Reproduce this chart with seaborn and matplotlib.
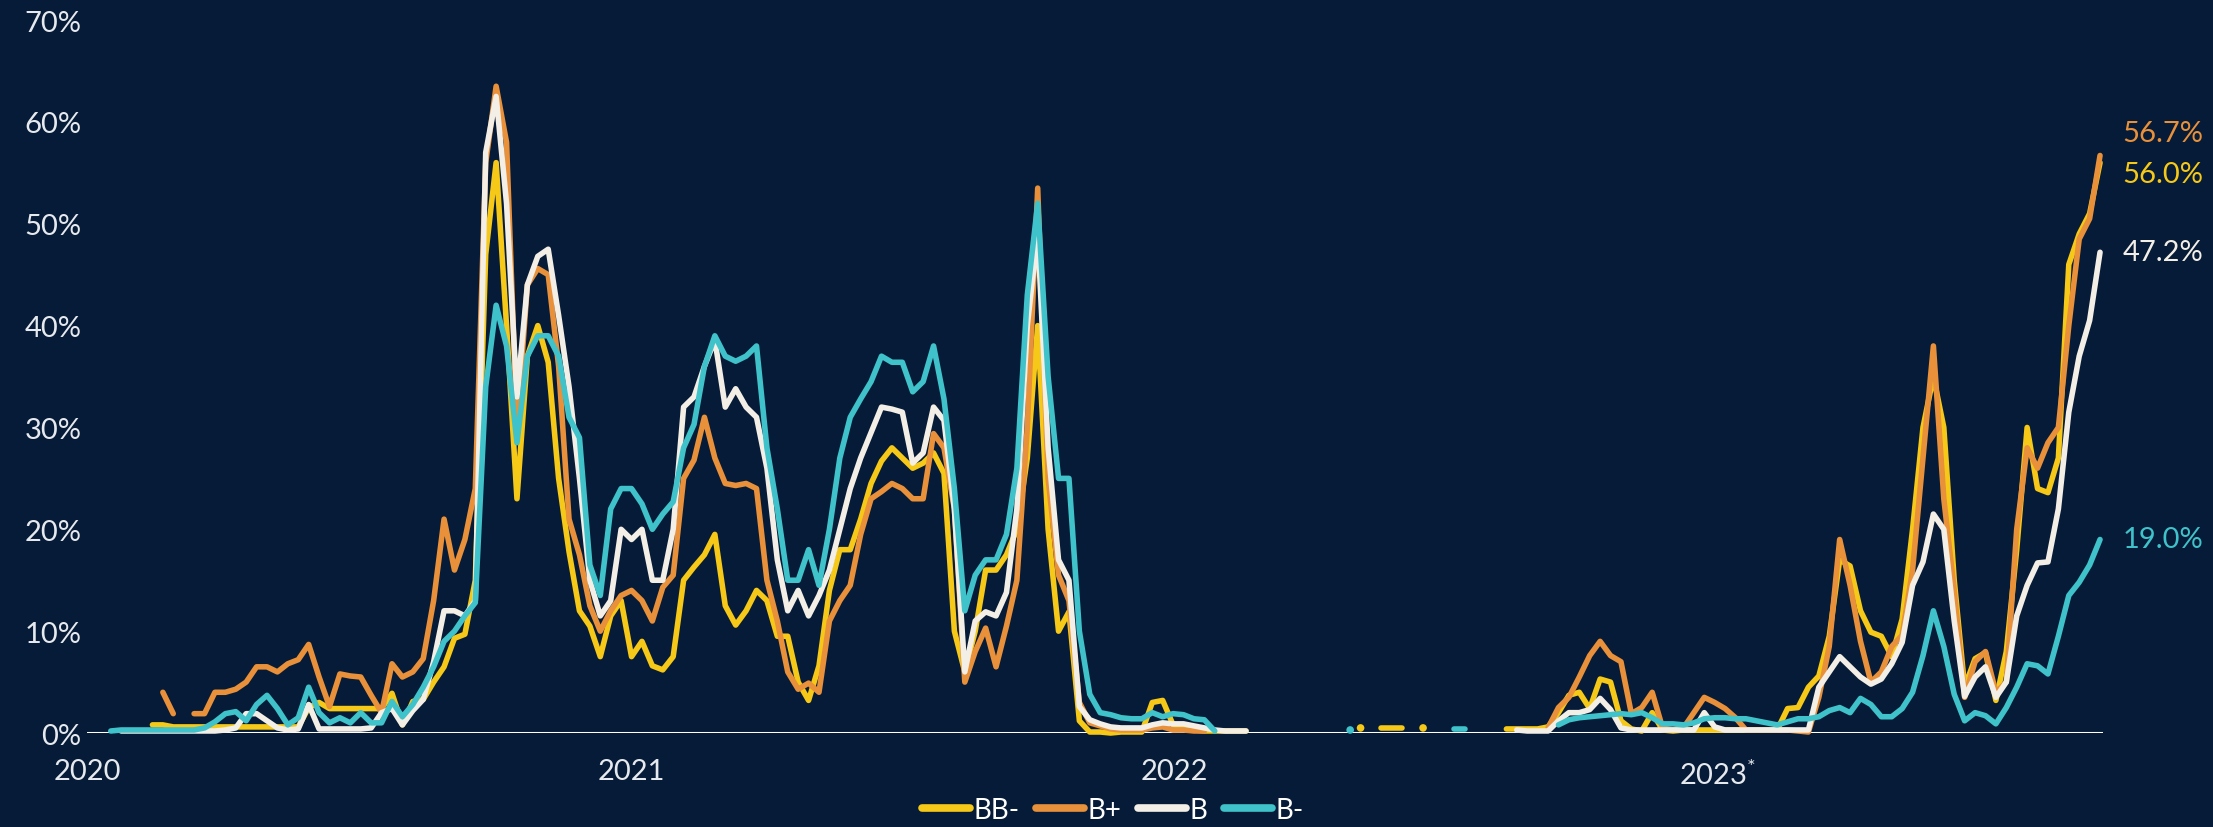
import numpy as np
import pandas as pd
import matplotlib
matplotlib.use("Agg")
import matplotlib.pyplot as plt
from matplotlib.lines import Line2D
import seaborn as sns

nan = np.nan

# weekly readings, first on 3 Jan 2020, last on 15 Sep 2023 (194 weeks)
dates = pd.date_range("2020-01-03", periods=194, freq="7D")

bb_minus = [
    nan, nan, nan, nan, nan, nan, 0.8, 0.8, 0.6, 0.6,
    0.6, 0.6, 0.6, 0.6, 0.6, 0.6, 0.6, 0.6, 0.6, 0.6,
    0.6, 2.5, 3.0, 2.4, 2.4, 2.4, 2.4, 2.4, 2.4, 3.9,
    0.8, 3.1, 3.3, 5.0, 6.5, 9.3, 9.7, 15.0, 47.0, 56.0,
    40.0, 23.0, 37.0, 40.0, 36.4, 25.0, 17.8, 12.0, 10.5, 7.5,
    11.5, 13.0, 7.5, 9.0, 6.6, 6.2, 7.5, 15.0, 16.3, 17.5,
    19.5, 12.5, 10.6, 12.0, 14.0, 13.0, 9.5, 9.5, 5.0, 3.2,
    6.6, 14.0, 18.0, 18.0, 21.0, 24.5, 26.7, 28.0, 27.0, 26.0,
    26.5, 27.5, 25.5, 10.0, 6.0, 10.0, 16.0, 16.0, 17.5, 20.0,
    27.0, 40.0, 20.0, 10.0, 11.9, 1.2, 0.1, 0.1, 0.0, 0.1,
    0.1, 0.1, 3.0, 3.2, 0.8, 0.5, 0.3, 0.2, 0.2, 0.2,
    0.2, 0.2, nan, nan, nan, nan, nan, nan, nan, nan,
    nan, nan, 0.5, nan, 0.5, 0.5, 0.5, nan, 0.5, nan,
    nan, nan, nan, nan, nan, nan, 0.4, 0.4, 0.4, 0.4,
    0.6, 2.0, 3.7, 4.0, 2.4, 5.3, 5.0, 1.2, 0.4, 0.2,
    2.0, 0.3, 0.2, 0.3, 0.3, 0.3, 0.3, 0.3, 0.3, 0.3,
    0.3, 0.3, 0.3, 2.4, 2.5, 4.5, 5.6, 9.5, 17.0, 16.4,
    12.0, 9.9, 9.5, 7.5, 11.2, 20.0, 30.0, 35.0, 30.0, 15.0,
    4.5, 7.3, 7.9, 3.2, 8.0, 18.0, 30.0, 24.0, 23.6, 27.0,
    46.0, 49.0, 51.0, 56.0,
]

b_plus = [
    nan, nan, nan, nan, nan, nan, nan, 4.0, 1.9, nan,
    1.9, 1.9, 4.0, 4.0, 4.3, 5.0, 6.5, 6.5, 6.0, 6.8,
    7.2, 8.7, 5.5, 2.6, 5.8, 5.6, 5.5, 3.7, 2.0, 6.8,
    5.5, 6.0, 7.3, 13.0, 21.0, 16.0, 19.0, 24.0, 56.0, 63.5,
    58.0, 30.0, 44.0, 45.6, 45.0, 36.0, 21.0, 17.5, 12.5, 10.0,
    12.0, 13.5, 14.0, 13.0, 11.0, 14.3, 15.5, 25.0, 26.8, 31.0,
    27.0, 24.5, 24.3, 24.5, 24.0, 15.0, 11.0, 6.0, 4.3, 4.9,
    4.0, 11.0, 13.0, 14.5, 19.5, 23.0, 23.7, 24.5, 24.0, 23.0,
    23.0, 29.4, 28.0, 22.0, 5.0, 8.0, 10.3, 6.5, 10.5, 15.0,
    30.0, 53.5, 25.0, 15.5, 13.0, 3.0, 1.0, 0.7, 0.4, 0.3,
    0.3, 0.3, 0.5, 0.6, 0.3, 0.3, 0.2, 0.2, nan, nan,
    nan, nan, nan, nan, nan, nan, nan, nan, nan, nan,
    nan, nan, nan, nan, nan, nan, nan, nan, nan, nan,
    nan, nan, nan, nan, nan, nan, nan, nan, nan, nan,
    0.5, 2.5, 3.5, 5.5, 7.6, 9.0, 7.6, 7.0, 1.9, 2.5,
    4.0, 0.5, 0.3, 0.5, 2.0, 3.5, 3.0, 2.4, 1.5, 0.3,
    0.3, 0.3, 0.3, 0.3, 0.2, 0.1, 3.5, 8.5, 19.0, 14.5,
    9.0, 5.0, 6.0, 8.5, 9.6, 16.0, 27.0, 38.0, 23.0, 14.0,
    3.5, 7.0, 8.0, 4.0, 5.0, 20.0, 28.0, 26.0, 28.5, 30.0,
    40.0, 48.5, 50.5, 56.7,
]

b_mid = [
    nan, nan, nan, 0.2, 0.2, 0.2, 0.2, 0.2, 0.2, 0.2,
    0.2, 0.2, 0.2, 0.3, 0.5, 1.9, 1.9, 1.2, 0.5, 0.3,
    0.4, 2.8, 0.4, 0.4, 0.4, 0.4, 0.4, 0.5, 2.0, 2.4,
    0.8, 2.2, 3.3, 7.0, 12.0, 12.0, 11.5, 13.0, 57.0, 62.5,
    52.0, 33.0, 44.0, 46.8, 47.5, 41.0, 34.0, 25.0, 15.0, 11.5,
    13.0, 20.0, 19.0, 20.0, 15.0, 15.0, 20.0, 32.0, 33.0, 36.0,
    38.6, 32.0, 33.8, 32.0, 31.0, 26.0, 17.0, 12.0, 14.0, 11.5,
    13.5, 16.0, 20.0, 24.0, 27.0, 29.5, 32.0, 31.8, 31.5, 26.5,
    27.5, 32.0, 30.7, 22.0, 6.0, 11.0, 11.9, 11.5, 13.8, 22.0,
    40.0, 49.0, 28.0, 17.0, 15.0, 2.6, 1.3, 0.9, 0.6, 0.5,
    0.5, 0.5, 0.8, 1.0, 0.9, 0.9, 0.7, 0.5, 0.3, 0.2,
    0.2, 0.2, nan, nan, nan, nan, nan, nan, nan, nan,
    nan, nan, nan, nan, nan, nan, nan, nan, nan, nan,
    nan, nan, nan, nan, nan, nan, nan, 0.3, 0.2, 0.2,
    0.2, 1.2, 2.0, 2.0, 2.3, 3.4, 2.3, 0.5, 0.3, 0.3,
    0.3, 0.3, 0.3, 0.3, 0.3, 2.0, 0.6, 0.3, 0.3, 0.3,
    0.3, 0.3, 0.3, 0.3, 0.3, 0.3, 4.5, 6.0, 7.5, 6.5,
    5.5, 4.8, 5.3, 6.8, 8.9, 14.5, 16.8, 21.5, 20.0, 11.0,
    3.6, 5.5, 6.5, 3.5, 5.0, 11.5, 14.5, 16.7, 16.8, 22.0,
    31.5, 37.0, 40.5, 47.2,
]

b_minus = [
    nan, nan, 0.2, 0.3, 0.3, 0.3, 0.3, 0.3, 0.3, 0.3,
    0.3, 0.5, 1.1, 1.9, 2.1, 1.2, 2.8, 3.7, 2.4, 0.8,
    1.5, 4.5, 2.0, 1.0, 1.5, 1.0, 2.0, 1.0, 1.0, 3.1,
    1.6, 2.8, 4.5, 6.5, 9.0, 10.0, 11.5, 12.8, 34.0, 42.0,
    38.0, 28.5, 37.0, 39.0, 39.0, 37.0, 31.0, 29.0, 16.5, 13.5,
    22.0, 24.0, 24.0, 22.5, 20.0, 21.5, 22.7, 28.0, 30.3, 36.0,
    39.0, 37.0, 36.5, 37.0, 38.0, 28.0, 22.0, 15.0, 15.0, 18.0,
    14.5, 20.0, 27.0, 31.0, 32.8, 34.5, 37.0, 36.4, 36.4, 33.5,
    34.5, 38.0, 32.8, 24.0, 12.0, 15.5, 17.0, 17.0, 19.5, 26.0,
    43.0, 52.0, 35.0, 25.0, 25.0, 10.0, 3.8, 2.0, 1.8, 1.5,
    1.4, 1.4, 2.0, 1.6, 1.9, 1.8, 1.4, 1.3, 0.2, nan,
    nan, nan, nan, nan, nan, nan, nan, nan, nan, nan,
    nan, 0.3, nan, nan, nan, nan, nan, nan, nan, nan,
    nan, 0.4, 0.4, nan, nan, nan, nan, nan, nan, nan,
    nan, 0.8, 1.3, 1.5, 1.6, 1.7, 1.8, 1.9, 1.8, 2.0,
    1.5, 0.9, 0.9, 0.8, 1.0, 1.4, 1.5, 1.5, 1.4, 1.4,
    1.2, 1.0, 0.8, 1.1, 1.4, 1.4, 1.6, 2.2, 2.5, 2.0,
    3.4, 2.8, 1.6, 1.6, 2.4, 4.0, 7.6, 12.0, 8.5, 3.8,
    1.2, 2.0, 1.7, 0.9, 2.5, 4.5, 6.8, 6.6, 5.8, 9.5,
    13.5, 14.8, 16.5, 19.0,
]

ratings = ["BB-", "B+", "B", "B-"]
year_ticks = ["2020-01-01", "2021-01-01", "2022-01-01", "2023-01-01"]
year_labels = ["2020", "2021", "2022", "2023$^{*}$"]
y_ticks = [0, 10, 20, 30, 40, 50, 60, 70]

# styling
bg = "#061b37"
palette = dict(zip(ratings, ["#f6c817", "#e8903a", "#f3eee6", "#3fc2ca"]))
label_nudge = {"BB-": -8, "B+": 16, "B": 0, "B-": 0}  # points, keeps 56.0/56.7 apart
text_col = "#e6e9ee"

sns.set_theme(style="dark", rc={
    "figure.facecolor": bg, "axes.facecolor": bg, "savefig.facecolor": bg,
    "lines.solid_capstyle": "round", "lines.solid_joinstyle": "round",
})
plt.rcParams["font.family"] = ["Lato", "DejaVu Sans"]
plt.rcParams["mathtext.fontset"] = "custom"
plt.rcParams["mathtext.rm"] = "Lato"

# long form table, one "piece" per unbroken run of values
frames = []
for name, vals in zip(ratings, [bb_minus, b_plus, b_mid, b_minus]):
    vals = np.asarray(vals, dtype=float)
    piece = np.cumsum(np.isnan(vals))
    frames.append(pd.DataFrame({"date": dates, "rate": vals, "rating": name,
                                "piece": [f"{name}-{p}" for p in piece]}))
df = pd.concat(frames, ignore_index=True).dropna(subset=["rate"])
run_len = df.groupby("piece")["piece"].transform("size")
runs = df[run_len > 1]
dots = df[run_len == 1]

fig = plt.figure(figsize=(22.13, 8.28), dpi=100)
ax = fig.add_axes([0.0393, 0.1135, 0.9110, 0.8611])

ax.axhline(0, color="white", lw=2.2, zorder=1)

sns.lineplot(data=runs, x="date", y="rate", hue="rating", units="piece",
             estimator=None, hue_order=ratings, palette=palette,
             linewidth=4.0, legend=False, ax=ax, clip_on=False, zorder=2)
sns.scatterplot(data=dots, x="date", y="rate", hue="rating", hue_order=ratings,
                palette=palette, s=30, linewidth=0, legend=False, ax=ax,
                clip_on=False, zorder=2)

# value labels at the right end
for name in ratings:
    last = df[df["rating"] == name].iloc[-1]
    ax.annotate(f"{last['rate']:.1f}%", xy=(last["date"], last["rate"]),
                xytext=(16, label_nudge[name]), textcoords="offset points",
                va="center", ha="left", fontsize=21, color=palette[name],
                annotation_clip=False)

ax.set_xlim(pd.Timestamp("2020-01-01"), pd.Timestamp("2023-09-17"))
ax.set_ylim(0, 70)
ax.set_xticks(pd.to_datetime(year_ticks))
ax.set_xticklabels(year_labels)
ax.set_yticks(y_ticks)
ax.set_yticklabels([f"{v}%" for v in y_ticks])
ax.tick_params(axis="both", length=0, labelsize=21, labelcolor=text_col)
ax.tick_params(axis="x", pad=18)
ax.tick_params(axis="y", pad=4)
ax.set_xlabel("")
ax.set_ylabel("")
ax.grid(False)
for sp in ax.spines.values():
    sp.set_visible(False)

handles = [Line2D([], [], color=palette[r], lw=5.5, solid_capstyle="round") for r in ratings]
fig.legend(handles, ratings, loc="center", bbox_to_anchor=(0.503, 0.021), ncol=4,
           frameon=False, fontsize=20, labelcolor="white", handlelength=1.7,
           handletextpad=0.15, columnspacing=0.6, borderaxespad=0)

fig.savefig("out.png", dpi=100, facecolor=bg)
